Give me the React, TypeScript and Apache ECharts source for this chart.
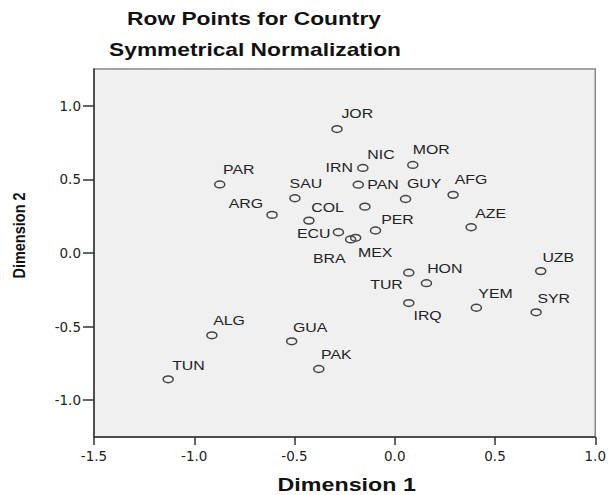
import React, { useEffect, useRef } from "react";
import * as echarts from "echarts";

const countries = ["JOR","NIC","MOR","IRN","PAR","SAU","PAN","GUY","AFG","ARG","COL","PER","AZE","ECU","BRA","MEX","UZB","HON","TUR","YEM","SYR","IRQ","ALG","GUA","PAK","TUN"];
const dim1 = [-0.288,-0.159,0.090,-0.182,-0.873,-0.498,-0.149,0.054,0.291,-0.612,-0.428,-0.096,0.381,-0.281,-0.220,-0.195,0.728,0.158,0.070,0.407,0.705,0.070,-0.912,-0.514,-0.379,-1.130];
const dim2 = [0.842,0.578,0.598,0.464,0.466,0.372,0.315,0.367,0.395,0.259,0.220,0.153,0.175,0.141,0.092,0.103,-0.123,-0.205,-0.134,-0.372,-0.403,-0.340,-0.559,-0.600,-0.788,-0.858];
// label placement relative to the point (pixels): [dx to text left, dy to text middle]
const labelOffsets: [number, number][] = [
  [4.4,-15],[4.4,-13.3],[0,-15.3],[-32.7,-16.7],[3.3,-14.4],[-5.3,-14.4],[2.4,-22],[1.3,-15],[1.6,-15],[-43.3,-11.6],
  [2.4,-13.3],[5.7,-11],[4,-14],[-41.4,1],[-37.7,19.3],[2.3,14.4],[1.7,-13.7],[0.7,-15],[-38.6,11.7],[2,-14],
  [1.3,-13.7],[4.7,12.3],[1.3,-15],[1.3,-13.7],[2.3,-14.7],[4,-13.3]
];
const xTicks = [-1.5, -1.0, -0.5, 0.0, 0.5, 1.0];
const yTicks = [-1.0, -0.5, 0.0, 0.5, 1.0];

export default function App() {
  const ref = useRef<HTMLDivElement>(null);
  useEffect(() => {
    const chart = echarts.init(ref.current!, null, { renderer: "svg" });
    const data = dim1.map((v, i) => [v, dim2[i]]);
    const tickFont = { fontFamily: "DejaVu Sans", fontSize: 13.5, color: "#222" };
    chart.setOption({
      animation: false,
      backgroundColor: "#ffffff",
      grid: {
        left: 94, right: 13, top: 69, bottom: 58,
        show: true, backgroundColor: "#f0f0f0", borderColor: "#888", borderWidth: 1.5,
      },
      xAxis: {
        type: "value", min: xTicks[0], max: xTicks[xTicks.length - 1], interval: 0.5,
        splitLine: { show: false },
        axisLine: { show: true, onZero: false, lineStyle: { color: "#333", width: 1.5 } },
        axisTick: { show: true, length: 8, lineStyle: { color: "#333", width: 1.5 } },
        axisLabel: { ...tickFont, margin: 12, formatter: (v: number) => v.toFixed(1), showMinLabel: true, showMaxLabel: true },
      },
      yAxis: {
        type: "value", min: -1.25, max: 1.25, interval: 0.25,
        splitLine: { show: false },
        axisLine: { show: true, onZero: false, lineStyle: { color: "#333", width: 1.5 } },
        axisTick: { show: true, length: 11, customValues: yTicks, lineStyle: { color: "#333", width: 1.5 } },
        axisLabel: { ...tickFont, margin: 13, customValues: yTicks, formatter: (v: number) => v.toFixed(1) },
      },
      graphic: [
        { type: "text", x: 254, y: 18.5, scaleX: 1.3, style: { text: "Row Points for Country", fontFamily: "Liberation Sans", fontWeight: "bold", fontSize: 17.5, fill: "#111", textAlign: "center", textVerticalAlign: "middle" } },
        { type: "text", x: 255, y: 50, scaleX: 1.3, style: { text: "Symmetrical Normalization", fontFamily: "Liberation Sans", fontWeight: "bold", fontSize: 17.5, fill: "#111", textAlign: "center", textVerticalAlign: "middle" } },
        { type: "text", x: 346.7, y: 484.5, scaleX: 1.33, style: { text: "Dimension 1", fontFamily: "Liberation Sans", fontWeight: "bold", fontSize: 17.5, fill: "#111", textAlign: "center", textVerticalAlign: "middle" } },
        { type: "text", x: 19.5, y: 235.5, rotation: Math.PI / 2, scaleY: 1.2, style: { text: "Dimension 2", fontFamily: "Liberation Sans", fontWeight: "bold", fontSize: 14.5, fill: "#111", textAlign: "center", textVerticalAlign: "middle" } },
      ],
      series: [
        {
          type: "custom",
          coordinateSystem: "cartesian2d",
          encode: { x: 0, y: 1 },
          clip: false,
          data,
          renderItem: (params: any, api: any) => {
            const i = params.dataIndex;
            const p = api.coord([api.value(0), api.value(1)]);
            const off = labelOffsets[i];
            return {
              type: "group",
              children: [
                { type: "ellipse", shape: { cx: p[0], cy: p[1], rx: 5, ry: 3.4 }, style: { fill: "none", stroke: "#444", lineWidth: 1.5 } },
                { type: "text", x: p[0] + off[0], y: p[1] + off[1], scaleX: 1.27,
                  style: { text: countries[i], fontFamily: "Liberation Sans", fontSize: 12.5, fill: "#222", textAlign: "left", textVerticalAlign: "middle" } },
              ],
            };
          },
        },
      ],
    });
    return () => chart.dispose();
  }, []);
  return <div ref={ref} style={{ position: "absolute", left: 0, top: 0, width: 609, height: 495 }} />;
}
